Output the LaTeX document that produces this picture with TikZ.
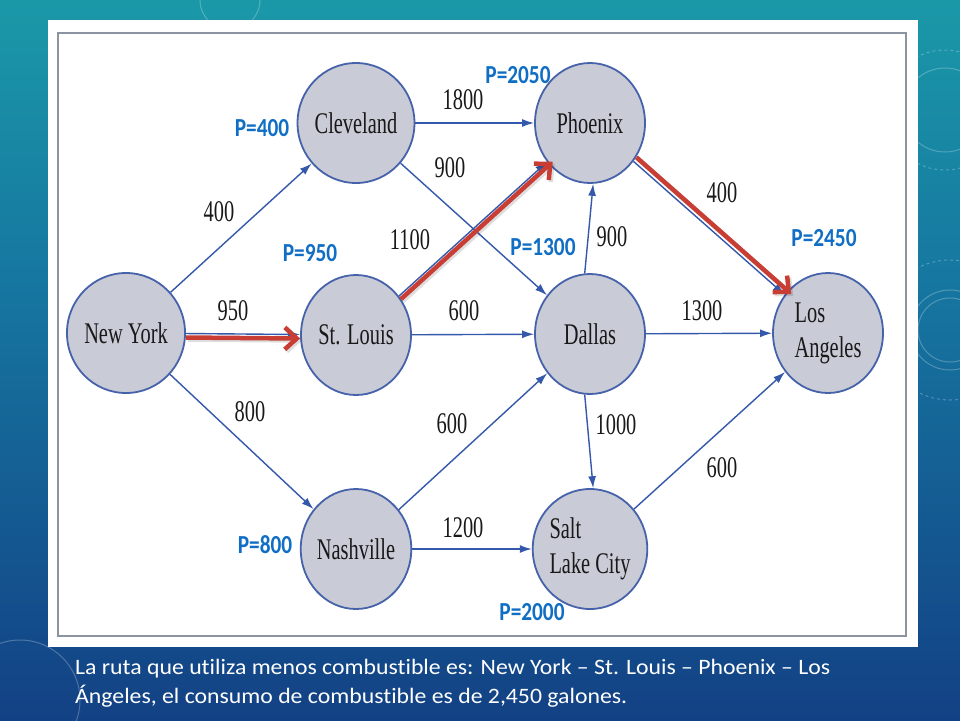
\documentclass[tikz,border=0pt]{standalone}
\usepackage{fontspec}
\usetikzlibrary{shapes.geometric,arrows.meta}
\newfontfamily\tfont[FakeStretch=0.68]{Liberation Serif}
\newfontfamily\pfont[FakeStretch=0.82]{Carlito}
\newfontfamily\cfont[FakeStretch=1.08,RawFeature=-liga]{Carlito}
\definecolor{nodefill}{RGB}{201,203,214}
\definecolor{nodeline}{RGB}{70,98,170}
\definecolor{edgeblue}{RGB}{52,88,170}
\definecolor{pblue}{RGB}{16,110,196}
\definecolor{routered}{RGB}{200,62,52}
\definecolor{bgtop}{RGB}{30,178,174}
\definecolor{bgmid}{RGB}{22,118,160}
\definecolor{bgbot}{RGB}{18,56,128}
\definecolor{framegray}{RGB}{140,148,162}
\pgfdeclareverticalshading{slidebg}{100bp}{color(0bp)=(bgbot); color(20bp)=(bgbot); color(55bp)=(bgmid); color(90bp)=(bgtop); color(100bp)=(bgtop)}
\begin{document}
\begin{tikzpicture}[x=1pt,y=-1pt,
  city/.style={ellipse, draw=nodeline, line width=1.8pt, fill=nodefill,
    minimum width=110pt, minimum height=120pt, inner sep=0pt,
    font=\tfont\fontsize{30}{35}\selectfont, text=black!90, align=left},
  wlabel/.style={font=\tfont\fontsize{30}{35}\selectfont, text=black!90, inner sep=0pt},
  plabel/.style={font=\pfont\bfseries\fontsize{26}{30}\selectfont, text=pblue, inner sep=0pt},
  link/.style={draw=edgeblue, line width=1.4pt, -{Latex[length=12pt,width=8pt]}},
  route/.style={draw=routered, line width=4.5pt, -{Straight Barb[length=12pt,width=22pt]}},
  routeshadow/.style={draw=black, opacity=0.13, line width=4.5pt, -{Straight Barb[length=12pt,width=22pt]}},
  caption/.style={anchor=base west, font=\cfont\fontsize{22}{29}\selectfont, text=white, inner sep=0pt},
  deco/.style={draw=white, opacity=0.25, line width=1pt}
]
% slide background
\shade[shading=slidebg] (0,0) rectangle (960,720);
\useasboundingbox (0,0) rectangle (960,720);
\draw[deco] (945,110) circle (42);
\draw[deco, dashed] (945,110) circle (60);
\draw[deco] (950,330) circle (32);
\draw[deco] (950,330) circle (40);
\draw[deco, dashed] (950,330) circle (70);
\draw[deco] (20,700) circle (60);
\draw[deco] (230,0) circle (30);
% white panel and frame
\fill[white] (48,20) rectangle (918,647);
\draw[draw=framegray, line width=1.5pt] (58,33) rectangle (906,636);
% cities
\node[city] (nyk) at (126,333) {New York};
\node[city] (cle) at (356,123) {Cleveland};
\node[city] (stl) at (356,335) {St. Louis};
\node[city] (nas) at (356,549) {Nashville};
\node[city] (phx) at (590,123) {Phoenix};
\node[city] (dal) at (590,334) {Dallas};
\node[city] (slc) at (590,549) {Salt\\Lake City};
\node[city] (lax) at (828,333) {Los\\Angeles};
% blue links
\draw[link] (nyk) -- (cle);
\draw[link] (nyk) -- (stl);
\draw[link] (nyk) -- (nas);
\draw[link] (cle) -- (phx);
\draw[link] (cle) -- (dal);
\draw[link] (stl) -- (phx);
\draw[link] (stl) -- (dal);
\draw[link] (nas) -- (dal);
\draw[link] (nas) -- (slc);
\draw[link] (dal.95) -- (phx.273);
\draw[link] (dal.265) -- (slc.87);
\draw[link] (dal) -- (lax);
\draw[link] (phx) -- (lax);
\draw[link] (slc) -- (lax);
% red route
\draw[routeshadow, transform canvas={xshift=2pt,yshift=-6pt}] (nyk) -- (stl);
\draw[route, transform canvas={yshift=-4pt}] (nyk) -- (stl);
\draw[routeshadow, shorten >=-5pt, transform canvas={xshift=4pt,yshift=-5pt}] (stl) -- (phx);
\draw[route, shorten >=-5pt, transform canvas={xshift=2pt,yshift=-3pt}] (stl) -- (phx);
\draw[routeshadow, shorten >=-5pt, transform canvas={xshift=5pt,yshift=2pt}] (phx) -- (lax);
\draw[route, shorten >=-5pt, transform canvas={xshift=3pt,yshift=4pt}] (phx) -- (lax);
% weights
\node[wlabel] (w1) at (219,212) {400};
\node[wlabel] (w2) at (233,311) {950};
\node[wlabel] (w3) at (250,412) {800};
\node[wlabel] (w4) at (463,100) {1800};
\node[wlabel] (w5) at (450,168) {900};
\node[wlabel] (w6) at (410,240) {1100};
\node[wlabel] (w7) at (464,311) {600};
\node[wlabel] (w8) at (452,424) {600};
\node[wlabel] (w9) at (463,528) {1200};
\node[wlabel] (w10) at (612,237) {900};
\node[wlabel] (w11) at (722,193) {400};
\node[wlabel] (w12) at (702,311) {1300};
\node[wlabel] (w13) at (616,425) {1000};
\node[wlabel] (w14) at (722,468) {600};
% P labels
\node[plabel] (p1) at (262,128) {P=400};
\node[plabel] (p2) at (310,253) {P=950};
\node[plabel] (p3) at (518,75) {P=2050};
\node[plabel] (p4) at (543,247) {P=1300};
\node[plabel] (p5) at (824,238) {P=2450};
\node[plabel] (p6) at (265,545) {P=800};
\node[plabel] (p7) at (532,612) {P=2000};
% caption
\node[caption] (cap1) at (75,674) {La ruta que utiliza menos combustible es: New York – St. Louis – Phoenix – Los};
\node[caption] (cap2) at (75,703) {Ángeles, el consumo de combustible es de 2,450 galones.};
\end{tikzpicture}
\end{document}
